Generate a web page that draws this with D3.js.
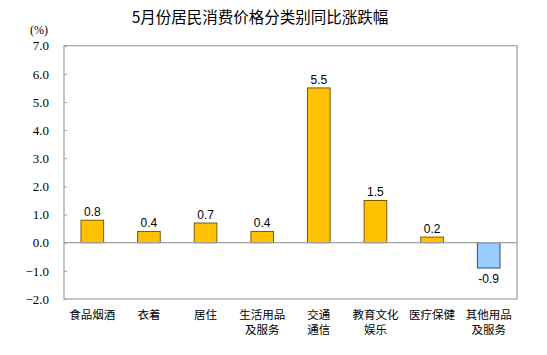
<!DOCTYPE html>
<html><head><meta charset="utf-8">
<script src="https://cdn.jsdelivr.net/npm/d3@7"></script>
<style>body{margin:0;background:#fff}</style>
</head><body>
<script>
const title = "5月份居民消费价格分类别同比涨跌幅";
const categories = [["食品烟酒"],["衣着"],["居住"],["生活用品","及服务"],["交通","通信"],["教育文化","娱乐"],["医疗保健"],["其他用品","及服务"]];
const values = [0.8, 0.4, 0.7, 0.4, 5.5, 1.5, 0.2, -0.9];
const yTicks = [-2,-1,0,1,2,3,4,5,6,7];
const unitLabel = "(%)";

const W = 547, H = 355;
const svg = d3.select("body").append("svg").attr("width", W).attr("height", H);
const L = 64, R = 517, T = 45.7, B = 299;
const x = d3.scaleBand().domain(d3.range(categories.length)).range([L, R]).paddingInner(0.6).paddingOuter(0.3);
const y = d3.scaleLinear().domain([-2, 7]).range([B, T]);

svg.append("text").attr("x", 260).attr("y", 23).attr("text-anchor", "middle")
  .attr("font-family", "'Noto Sans CJK SC', sans-serif").attr("font-size", 15.5).attr("fill", "#000").text(title);
svg.append("text").attr("x", 39).attr("y", 34).attr("text-anchor", "middle")
  .attr("font-family", "'Liberation Serif', serif").attr("font-size", 12).text(unitLabel);

// frame
svg.append("rect").attr("x", L).attr("y", T).attr("width", R - L).attr("height", B - T)
  .attr("fill", "none").attr("stroke", "#a0a0a0").attr("stroke-width", 1.2);

const yAxis = d3.axisLeft(y).tickValues(yTicks).tickFormat(d3.format(".1f")).tickSize(-3).tickPadding(15);
const ga = svg.append("g").attr("transform", `translate(${L},0)`).call(yAxis);
ga.select(".domain").remove();
ga.selectAll("line").attr("stroke", "#a0a0a0");
ga.selectAll("text").attr("font-family", "'Liberation Serif', serif").attr("font-size", 13).attr("fill", "#000");

// bars
svg.selectAll("rect.bar").data(values).enter().append("rect").attr("class", "bar")
  .attr("x", (d, i) => x(i)).attr("width", x.bandwidth())
  .attr("y", d => y(Math.max(0, d))).attr("height", d => Math.abs(y(d) - y(0)))
  .attr("fill", d => d >= 0 ? "#FFC000" : "#99CCFF")
  .attr("stroke", d => d >= 0 ? "#7a5c00" : "#3a4a66").attr("stroke-width", 1);

// zero line
svg.append("line").attr("x1", L).attr("x2", R).attr("y1", y(0)).attr("y2", y(0))
  .attr("stroke", "#a0a0a0").attr("stroke-width", 1.2);

// value labels
svg.selectAll("text.val").data(values).enter().append("text").attr("class", "val")
  .attr("x", (d, i) => x(i) + x.bandwidth() / 2)
  .attr("y", d => d >= 0 ? y(d) - 4 : y(d) + 15)
  .attr("text-anchor", "middle").attr("font-family", "'Liberation Sans', Arial, sans-serif")
  .attr("font-size", 12).text(d => d.toFixed(1));

// category labels
const cg = svg.selectAll("text.cat").data(categories).enter().append("text").attr("class", "cat")
  .attr("text-anchor", "middle").attr("font-family", "'Noto Sans CJK SC', sans-serif").attr("font-size", 11.5);
cg.each(function(lines, i) {
  const t = d3.select(this);
  lines.forEach((s, j) => t.append("tspan").attr("x", x(i) + x.bandwidth() / 2).attr("y", 319 + j * 15).text(s));
});
</script>
</body></html>
